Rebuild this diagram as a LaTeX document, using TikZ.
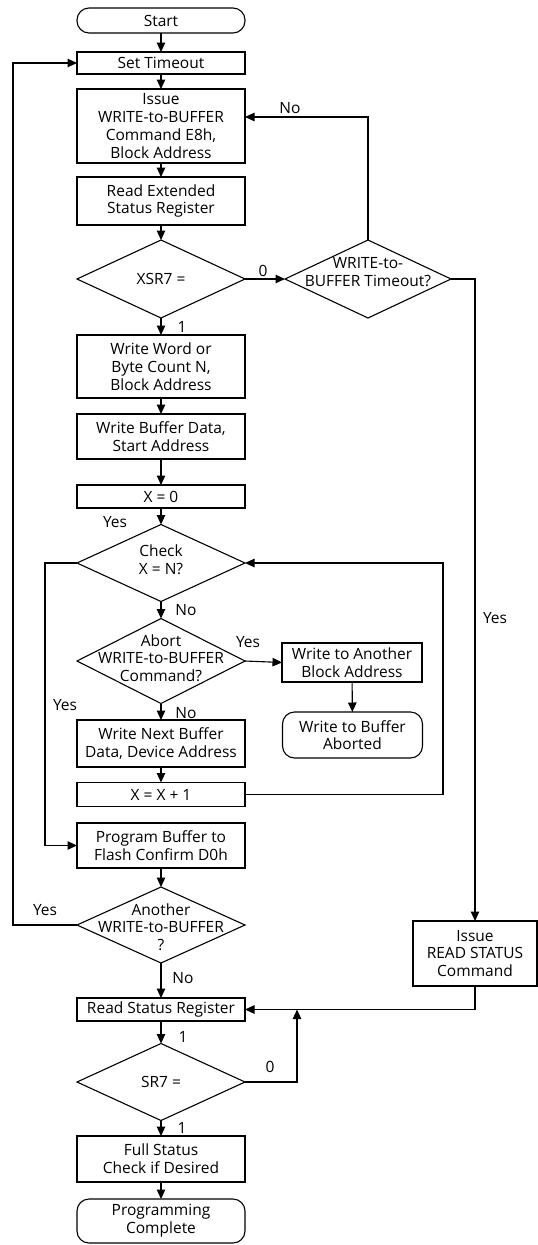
\documentclass[tikz,border=0pt]{standalone}
\usepackage{fontspec}
\setmainfont{Open Sans}
\usetikzlibrary{shapes.geometric, arrows.meta}

\begin{document}
\begin{tikzpicture}[x=1pt, y=-1pt,
  font=\fontsize{15.5}{17.7}\selectfont,
  every node/.style={inner sep=0pt, outer sep=0pt},
  box/.style={draw, rectangle, minimum width=168pt, align=center, line width=1.1pt},
  term/.style={box, rounded corners=12pt},
  dec/.style={draw, diamond, minimum width=168pt, minimum height=78pt, line width=1.1pt},
  dtext/.style={align=center},
  lbl/.style={},
  arr/.style={line width=1.1pt, -{Triangle[length=9.5pt, width=8.5pt]}}
]
\useasboundingbox (0,0) rectangle (538,1245);

% main column
\node[term, minimum height=25pt] (start) at (161,20.5) {Start};
\node[box, minimum height=22pt] (settimeout) at (161,63) {Set Timeout};
\node[box, minimum height=74pt] (issue) at (161,126) {Issue\\WRITE-to-BUFFER\\Command E8h,\\Block Address};
\node[box, minimum height=48pt] (readext) at (161,201) {Read Extended\\Status Register};
\node[dec] (xsr7) at (161,279) {};
\node[dtext] (xsr7t) at (161,279) {XSR7 =};
\node[dec, minimum width=166pt] (timeout) at (368,279) {};
\node[dtext] (timeoutt) at (368,272) {WRITE-to-\\BUFFER Timeout?};
\node[box, minimum height=63pt] (writeword) at (161,366.5) {Write Word or\\Byte Count N,\\Block Address};
\node[box, minimum height=45pt] (writedata) at (161,436.5) {Write Buffer Data,\\Start Address};
\node[box, minimum height=23pt] (x0) at (161,496.5) {X = 0};
\node[dec, minimum height=77pt] (check) at (161,563) {};
\node[dtext] (checkt) at (161,560) {Check\\X = N?};
\node[dec, minimum height=85pt] (abort) at (161,661) {};
\node[dtext] (abortt) at (161,658) {Abort\\WRITE-to-BUFFER\\Command?};
\node[box, minimum height=47pt] (writenext) at (161,743.5) {Write Next Buffer\\Data, Device Address};
\node[box, minimum height=24pt] (xplus) at (161,794.5) {X = X + 1};
\node[box, minimum height=45pt] (program) at (161,845.5) {Program Buffer to\\Flash Confirm D0h};
\node[dec, minimum height=76pt] (another) at (161,925) {};
\node[dtext] (anothert) at (161,927) {Another\\WRITE-to-BUFFER\\?};
\node[box, minimum height=23pt] (readstatus) at (161,1009.5) {Read Status Register};
\node[dec, minimum height=77pt] (sr7) at (161,1082) {};
\node[dtext] (sr7t) at (161,1082) {SR7 =};
\node[box, minimum height=46pt] (fullstatus) at (161,1159) {Full Status\\Check if Desired};
\node[term, minimum height=44pt] (complete) at (161,1221) {Programming\\Complete};

% side boxes
\node[box, minimum width=140pt, minimum height=39pt] (otherblock) at (352,662.5) {Write to Another\\Block Address};
\node[term, minimum width=140pt, minimum height=46pt] (aborted) at (352.5,735) {Write to Buffer\\Aborted};
\node[box, minimum width=124pt, minimum height=65pt] (rscmd) at (475,953.5) {Issue\\READ STATUS\\Command};

% bends of the loop lines
\coordinate (loopl) at (13,500);
\coordinate (checkl) at (45,700);
\coordinate (xplusr) at (443,700);
\coordinate (sr7up) at (297,1009.5);

% straight flow
\draw[arr] (start) -- (settimeout);
\draw[arr] (settimeout) -- (issue);
\draw[arr] (issue) -- (readext);
\draw[arr] (readext) -- (xsr7);
\draw[arr] (xsr7) -- (writeword);
\draw[arr] (writeword) -- (writedata);
\draw[arr] (writedata) -- (x0);
\draw[arr] (x0) -- (check);
\draw[arr] (check) -- (abort);
\draw[arr] (abort) -- (writenext);
\draw[arr] (writenext) -- (xplus);
\draw[arr] (program) -- (another);
\draw[arr] (another) -- (readstatus);
\draw[arr] (readstatus) -- (sr7);
\draw[arr] (sr7) -- (fullstatus);
\draw[arr] (fullstatus) -- (complete);
\draw[arr] (xsr7.east) -- (timeout.west);
\draw[arr] (abort.east) -- (otherblock.west);
\draw[arr] (otherblock) -- (aborted);

% loops and branches
\draw[arr] (timeout.north) |- ([yshift=9pt]issue.east);
\draw[arr] (timeout.east) -| (rscmd.north);
\draw[arr] (rscmd.south) |- (readstatus.east);
\draw[arr] (sr7.east) -| (sr7up);
\draw[arr] (check.west) -| (checkl) |- (program.west);
\draw[arr] (xplus.east) -| (xplusr) |- (check.east);
\draw[arr] (another.west) -| (loopl) |- (settimeout.west);

% branch labels
\node[lbl] (lno1) at (290,108) {No};
\node[lbl] (lzero1) at (263,271) {0};
\node[lbl] (lone1) at (182,327) {1};
\node[lbl] (lyes1) at (115,522) {Yes};
\node[lbl] (lno2) at (186,610) {No};
\node[lbl] (lyes2) at (248,642) {Yes};
\node[lbl] (lyes3) at (65,705) {Yes};
\node[lbl] (lno3) at (186,713) {No};
\node[lbl] (lyes4) at (495,618) {Yes};
\node[lbl] (lyes5) at (45,910) {Yes};
\node[lbl] (lno4) at (183,978) {No};
\node[lbl] (lone2) at (183,1037) {1};
\node[lbl] (lzero2) at (270,1067) {0};
\node[lbl] (lone3) at (182,1128) {1};
\end{tikzpicture}
\end{document}
